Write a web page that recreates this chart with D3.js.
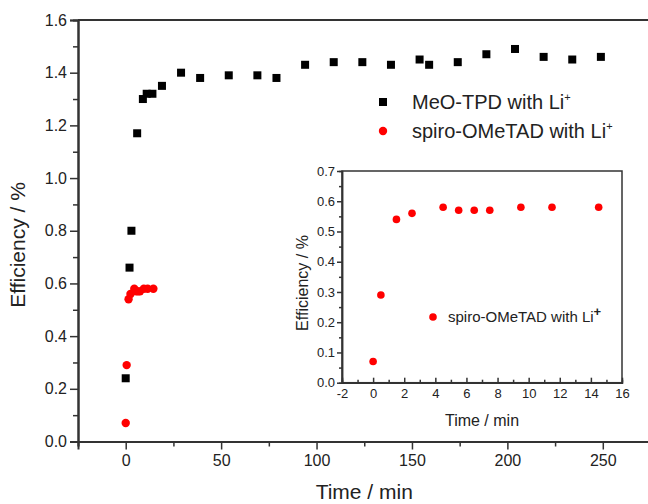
<!DOCTYPE html>
<html><head><meta charset="utf-8">
<script src="https://cdn.jsdelivr.net/npm/d3@7"></script>
<style>body{margin:0;background:#fff}svg{display:block}text{font-family:Arial,"Liberation Sans",sans-serif;fill:#222}</style>
</head><body>
<svg id="c" width="648" height="504"></svg>
<script>
// data
const meoTime = [0, 2, 3, 6, 9, 11, 14, 19, 29, 39, 54, 69, 79, 94, 109, 124, 139, 154, 159, 174, 189, 204, 219, 234, 249];
const meoEff  = [0.24, 0.66, 0.80, 1.17, 1.30, 1.32, 1.32, 1.35, 1.40, 1.38, 1.39, 1.39, 1.38, 1.43, 1.44, 1.44, 1.43, 1.45, 1.43, 1.44, 1.47, 1.49, 1.46, 1.45, 1.46];
const spiroTime = [0, 0.5, 1.5, 2.5, 4.5, 5.5, 6.5, 7.5, 9.5, 11.5, 14.5];
const spiroEff  = [0.07, 0.29, 0.54, 0.56, 0.58, 0.57, 0.57, 0.57, 0.58, 0.58, 0.58];
const mainXTicks = [0, 50, 100, 150, 200, 250];
const mainYTicks = [0.0, 0.2, 0.4, 0.6, 0.8, 1.0, 1.2, 1.4, 1.6];
const insetXTicks = [-2, 0, 2, 4, 6, 8, 10, 12, 14, 16];
const insetYTicks = [0.0, 0.1, 0.2, 0.3, 0.4, 0.5, 0.6, 0.7];
const legendLabels = ["MeO-TPD with Li", "spiro-OMeTAD with Li"];

const svg = d3.select("#c");
const axisColor = "#333";

// main scales
const x = d3.scaleLinear().domain([-25, 275]).range([78, 650.5]);
const y = d3.scaleLinear().domain([0, 1.6]).range([441.5, 20]);

function styleAxis(g, fs) {
  g.select(".domain").attr("stroke", axisColor).attr("stroke-width", 2);
  g.selectAll(".tick line").attr("stroke", axisColor).attr("stroke-width", 1.5);
  g.selectAll(".tick text").attr("fill", "#333").style("font-size", fs + "px").style("font-family", "Arial, 'Liberation Sans', sans-serif");
}

// main frame top & right
svg.append("line").attr("x1", x(-25)).attr("x2", x(275)).attr("y1", y(1.6)).attr("y2", y(1.6)).attr("stroke", axisColor).attr("stroke-width", 2);
svg.append("line").attr("x1", x(275)).attr("x2", x(275)).attr("y1", y(1.6)).attr("y2", y(0)).attr("stroke", axisColor).attr("stroke-width", 2);

// main minor ticks
const gxm = svg.append("g").attr("transform", `translate(0,${y(0)})`)
  .call(d3.axisBottom(x).tickValues(d3.range(-25, 276, 50)).tickSize(5).tickFormat(""));
const gx = svg.append("g").attr("transform", `translate(0,${y(0)})`)
  .call(d3.axisBottom(x).tickValues(mainXTicks).tickSize(8).tickPadding(5).tickFormat(d3.format("d")));
styleAxis(gxm, 16); styleAxis(gx, 16);

const gym = svg.append("g").attr("transform", `translate(${x(-25)},0)`)
  .call(d3.axisLeft(y).tickValues(d3.range(0.1, 1.6, 0.2)).tickSize(5).tickFormat(""));
const gy = svg.append("g").attr("transform", `translate(${x(-25)},0)`)
  .call(d3.axisLeft(y).tickValues(mainYTicks).tickSize(8).tickPadding(3).tickFormat(d3.format(".1f")));
styleAxis(gym, 16); styleAxis(gy, 16);

svg.append("text").attr("x", (x(-25) + x(275)) / 2).attr("y", 499).attr("text-anchor", "middle")
  .style("font-size", "21px").text("Time / min");
svg.append("text").attr("transform", `translate(25,245) rotate(-90)`).attr("text-anchor", "middle")
  .style("font-size", "21px").text("Efficiency / %");

// main points
const sq = 8;
svg.append("g").selectAll("rect").data(meoTime).join("rect")
  .attr("x", (d) => x(d) - sq / 2).attr("y", (d, i) => y(meoEff[i]) - sq / 2)
  .attr("width", sq).attr("height", sq).attr("fill", "#000");
svg.append("g").selectAll("circle").data(spiroTime).join("circle")
  .attr("cx", (d) => x(d)).attr("cy", (d, i) => y(spiroEff[i])).attr("r", 4.2).attr("fill", "#ff0000");

// main legend
const lg = svg.append("g");
lg.append("rect").attr("x", 383 - sq / 2).attr("y", 102 - sq / 2).attr("width", sq).attr("height", sq).attr("fill", "#000");
lg.append("circle").attr("cx", 383).attr("cy", 131).attr("r", 4.2).attr("fill", "#ff0000");
[102, 131].forEach((cy, i) => {
  const t = lg.append("text").attr("x", 412).attr("y", cy + 7).style("font-size", "20px");
  t.append("tspan").text(legendLabels[i]);
  t.append("tspan").attr("dy", -8).style("font-size", "11px").text("+");
});

// inset
const ix = d3.scaleLinear().domain([-2, 16]).range([342, 622]);
const iy = d3.scaleLinear().domain([0, 0.7]).range([382.7, 171]);
svg.append("rect").attr("x", ix(-2)).attr("y", iy(0.7)).attr("width", ix(16) - ix(-2)).attr("height", iy(0) - iy(0.7))
  .attr("fill", "#fff").attr("stroke", axisColor).attr("stroke-width", 1.5);

const hy = (d) => String(d);
const ixm = svg.append("g").attr("transform", `translate(0,${iy(0)})`)
  .call(d3.axisBottom(ix).tickValues(d3.range(-1, 16, 2)).tickSize(-3).tickFormat(""));
const ixg = svg.append("g").attr("transform", `translate(0,${iy(0)})`)
  .call(d3.axisBottom(ix).tickValues(insetXTicks).tickSizeInner(-5).tickSizeOuter(0).tickPadding(4).tickFormat(hy));
styleAxis(ixm, 13); styleAxis(ixg, 13);
ixg.selectAll(".tick text").attr("dy", "0.9em");
const iym = svg.append("g").attr("transform", `translate(${ix(-2)},0)`)
  .call(d3.axisLeft(iy).tickValues(d3.range(0.05, 0.7, 0.1)).tickSize(3).tickFormat(""));
const iyg = svg.append("g").attr("transform", `translate(${ix(-2)},0)`)
  .call(d3.axisLeft(iy).tickValues(insetYTicks).tickSizeInner(5).tickSizeOuter(0).tickPadding(2).tickFormat(d3.format(".1f")));
styleAxis(iym, 13); styleAxis(iyg, 13);
[ixm, ixg, iym, iyg].forEach(g => g.select(".domain").attr("stroke-width", 1.5));

svg.append("text").attr("x", (ix(-2) + ix(16)) / 2).attr("y", 426).attr("text-anchor", "middle")
  .style("font-size", "16px").text("Time / min");
svg.append("text").attr("transform", `translate(308,283) rotate(-90)`).attr("text-anchor", "middle")
  .style("font-size", "16px").text("Efficiency / %");

svg.append("g").selectAll("circle").data(spiroTime).join("circle")
  .attr("cx", (d) => ix(d)).attr("cy", (d, i) => iy(spiroEff[i])).attr("r", 3.8).attr("fill", "#ff0000");

svg.append("circle").attr("cx", 433).attr("cy", 317).attr("r", 3.8).attr("fill", "#ff0000");
const it = svg.append("text").attr("x", 448).attr("y", 322).style("font-size", "15px");
it.append("tspan").text(legendLabels[1]);
it.append("tspan").attr("dy", -6).style("font-size", "13px").style("font-weight", "bold").text("+");
</script>
</body></html>
